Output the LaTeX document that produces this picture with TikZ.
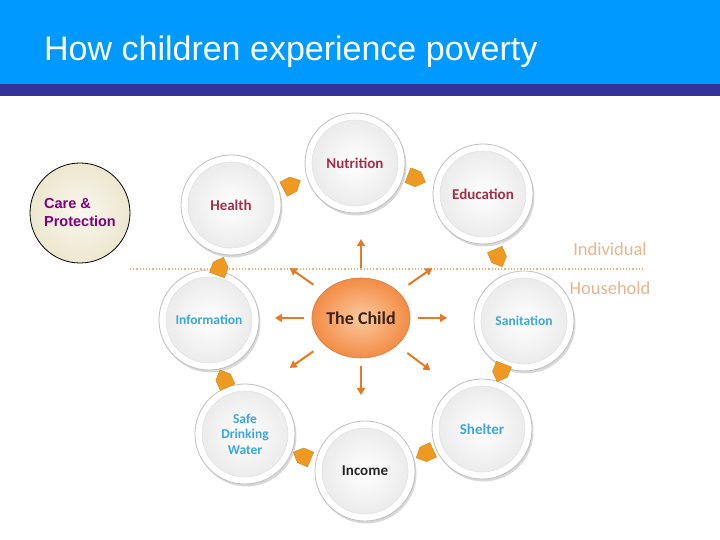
\documentclass[tikz,border=0pt]{standalone}
\usepackage{fontspec}
\setmainfont{Liberation Sans}
\newfontfamily\carl{Carlito}
\usetikzlibrary{shapes.geometric,shadows,arrows.meta,calc}
\definecolor{hdrblue}{HTML}{0099FF}
\definecolor{hdrdark}{HTML}{333399}
\definecolor{dred}{HTML}{A82E45}
\definecolor{lblue}{HTML}{3AA8E0}
\definecolor{blkor}{HTML}{EE9A22}
\definecolor{sarr}{HTML}{E57A22}
\definecolor{lvl}{HTML}{E9B48E}
\definecolor{creamA}{HTML}{F9F7EE}
\definecolor{creamB}{HTML}{EDE7CF}
\definecolor{purp}{HTML}{800080}
\definecolor{childin}{HTML}{FBC9A0}
\definecolor{childout}{HTML}{F28C45}
\definecolor{childtxt}{HTML}{3B2314}
\tikzset{
  ball/.style={circle, minimum size=100pt, inner sep=0pt, fill=white, draw=gray!50, line width=0.8pt,
    drop shadow={opacity=0.3, shadow xshift=1.5pt, shadow yshift=-2.5pt},
    path picture={\shade[inner color=white, outer color=gray!18] (path picture bounding box.center) circle (43pt);
      \draw[gray!22, line width=0.6pt] (path picture bounding box.center) circle (43pt);},
    align=center},
  bigtxt/.style={font=\carl\bfseries\fontsize{15}{16}\selectfont},
  smalltxt/.style={font=\carl\bfseries\fontsize{13.5}{15.5}\selectfont},
  sarrow/.style={draw=sarr, line width=2pt, -{Triangle[length=7pt,width=8pt]}},
  lvltxt/.style={text=lvl, font=\carl\fontsize{18.5}{20}\selectfont},
  blkarr/.pic={\filldraw[fill=blkor, draw=blkor!85!black, line width=0.3pt]
     (-9,-8) -- (2,-8) -- (10,0) -- (2,8) -- (-9,8) -- cycle;}
}
\begin{document}
\begin{tikzpicture}[x=1pt,y=1pt]
\useasboundingbox (0,0) rectangle (720,540);
\fill[white] (0,0) rectangle (720,540);
% header
\fill[hdrblue] (0,456) rectangle (720,540);
\fill[hdrdark] (0,444) rectangle (720,456);
\node[anchor=base west, inner sep=0pt, text=white, font=\fontsize{34}{40}\selectfont] (title) at (44,479) {How children experience poverty};
% care & protection
\node[circle, minimum size=100pt, inner sep=0pt, inner color=creamA, outer color=creamB, draw=black, line width=0.8pt,
  align=left, text=purp, font=\bfseries\fontsize{14.5}{18}\selectfont] (care) at (80,327) {Care \&\\Protection};
% level line
\coordinate (lineL) at (130,271);
\coordinate (lineR) at (645,271);
\draw[lvl!90!orange, dotted, line width=1.2pt] (lineL) -- (lineR);
\node[lvltxt] (indiv) at (610,291) {Individual};
\node[lvltxt] (house) at (610,252) {Household};
% circles
\node[ball, bigtxt, text=dred] (nutrition) at (355,377) {Nutrition};
\node[ball, bigtxt, text=dred] (education) at (483,346) {Education};
\node[ball, smalltxt, text=lblue] (sanitation) at (524,219) {Sanitation};
\node[ball, bigtxt, text=lblue] (shelter) at (482,111) {Shelter};
\node[ball, bigtxt, text=black!85] (income) at (365,69) {Income};
\node[ball, smalltxt, text=lblue] (water) at (245,106) {Safe\\Drinking\\Water};
\node[ball, smalltxt, text=lblue] (information) at (209,220) {Information};
\node[ball, bigtxt, text=dred] (health) at (231,335) {Health};
% the child
\node[ellipse, minimum width=96pt, minimum height=80pt, inner sep=0pt, inner color=childin, outer color=childout,
  draw=childout!90!black, line width=0.6pt, text=childtxt, font=\carl\bfseries\fontsize{18}{20}\selectfont] (child) at (361,222) {The Child};
% block arrows around the ring
\foreach \a in {117.6,68.4,23.7,-21.3,-64.7,-113,-156,160}
  \pic[rotate=\a-90] at ($(child.center)+(\a:150)$) {blkarr};
% small arrows from the child
\foreach \a/\r in {90/50, 145/58, 35/58, 180/57, 0/57, 215/58, 270/48, 323/58}
  \draw[sarrow] ($(child.center)+(\a:\r)$) -- ($(child.center)+(\a:\r+29)$);
\end{tikzpicture}
\end{document}
